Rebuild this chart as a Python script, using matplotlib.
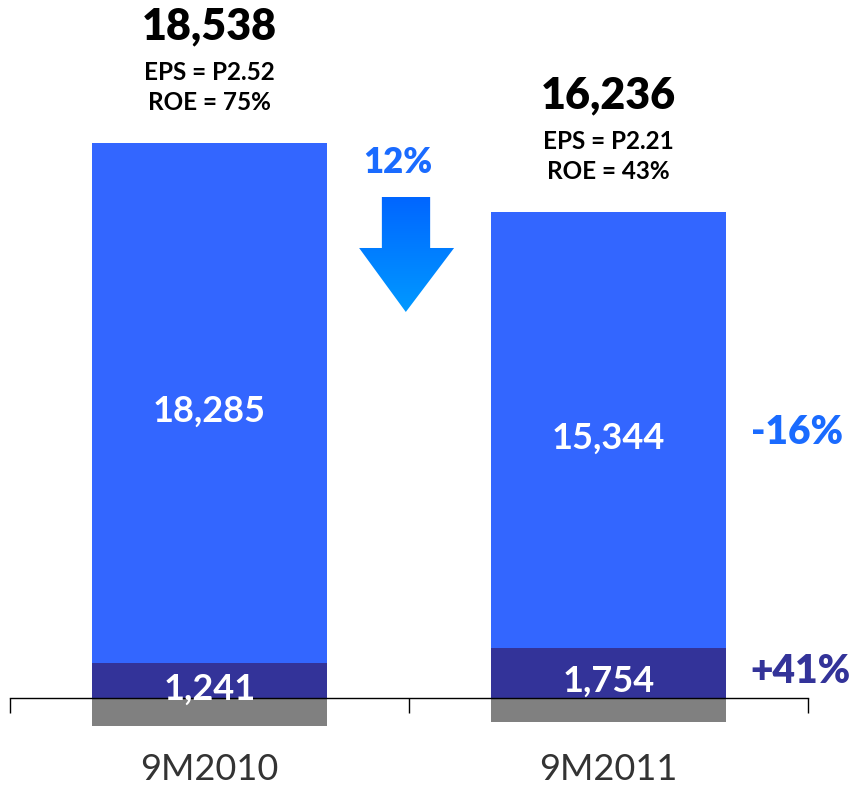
import numpy as np
import matplotlib
matplotlib.use("Agg")
import matplotlib.pyplot as plt
from matplotlib.patches import Polygon

# Data
categories = ['9M2010', '9M2011']
core_income = [18285, 15344]
other_income = [1241, 1754]
deductions = [-988, -862]
net_totals = [18538, 16236]
eps = ['2.52', '2.21']
roe = ['75%', '43%']
core_change = '-16%'
other_change = '+41%'
total_change = '12%'

plt.rcParams['font.family'] = ['Lato', 'DejaVu Sans']

LIGHT = '#3366FF'
DARK = '#333399'
GRAY = '#808080'
ACCENT = '#1A6BFF'

fig = plt.figure(figsize=(8.52, 7.90), dpi=100)
ax = fig.add_axes([10 / 852, 0, 798 / 852, 1])

x = np.arange(len(categories))
w = 0.59
ax.bar(x, deductions, width=w, color=GRAY, zorder=1)
ax.bar(x, other_income, width=w, color=DARK, zorder=1)
ax.bar(x, core_income, width=w, bottom=other_income, color=LIGHT, zorder=1)

ax.set_xlim(-0.5, 1.5)
ax.set_ylim(-3240, 24577)

# axis line with outward ticks between categories
for s in ['top', 'left', 'right']:
    ax.spines[s].set_visible(False)
ax.spines['bottom'].set_position(('data', 0))
ax.spines['bottom'].set_linewidth(1.0)
ax.spines['bottom'].set_zorder(3)
ax.set_xticks([-0.5, 0.5, 1.5])
ax.set_xticklabels([])
ax.tick_params(axis='x', direction='out', length=11, width=1.0)
ax.set_yticks([])

for i in range(len(categories)):
    top = other_income[i] + core_income[i]
    ax.text(x[i], top + 4120, f'{net_totals[i]:,}', ha='center', va='center',
            fontsize=31, fontweight='heavy', color='black')
    ax.text(x[i], top + 2500, f'EPS = P{eps[i]}', ha='center', va='center',
            fontsize=17.5, fontweight='bold', color='black')
    ax.text(x[i], top + 1444, f'ROE = {roe[i]}', ha='center', va='center',
            fontsize=17.5, fontweight='bold', color='black')
    ax.text(x[i], other_income[i] + core_income[i] / 2 - 280, f'{core_income[i]:,}',
            ha='center', va='center', fontsize=26, fontweight='bold', color='white')
    ax.text(x[i], other_income[i] / 2 - 300, f'{other_income[i]:,}',
            ha='center', va='center', fontsize=26, fontweight='bold', color='white',
            zorder=4)
    ax.text(x[i], -2535, categories[i], ha='center', va='center',
            fontsize=26, color='#333333')

# change labels
ax.text(0.472, 18838, total_change, ha='center', va='center',
        fontsize=25, fontweight='heavy', color=ACCENT)
ax.text(1.472, 9331, core_change, ha='center', va='center',
        fontsize=28, fontweight='heavy', color=ACCENT)
ax.text(1.48, 915, other_change, ha='center', va='center',
        fontsize=28, fontweight='heavy', color=DARK, clip_on=False)

# gradient down arrow
arrow_pts = [(0.432, 17641), (0.553, 17641), (0.553, 15845), (0.613, 15845),
             (0.492, 13592), (0.375, 15845), (0.432, 15845)]
poly = Polygon(arrow_pts, closed=True, facecolor='none', edgecolor='none')
ax.add_patch(poly)
grad = np.linspace(0, 1, 256).reshape(-1, 1)
cmap = matplotlib.colors.LinearSegmentedColormap.from_list('arr', ['#0066FF', '#0099FF'])
im = ax.imshow(grad, cmap=cmap, extent=[0.375, 0.613, 13592, 17641],
               origin='upper', aspect='auto', zorder=2)
im.set_clip_path(poly)

fig.savefig('out.png', dpi=100)
